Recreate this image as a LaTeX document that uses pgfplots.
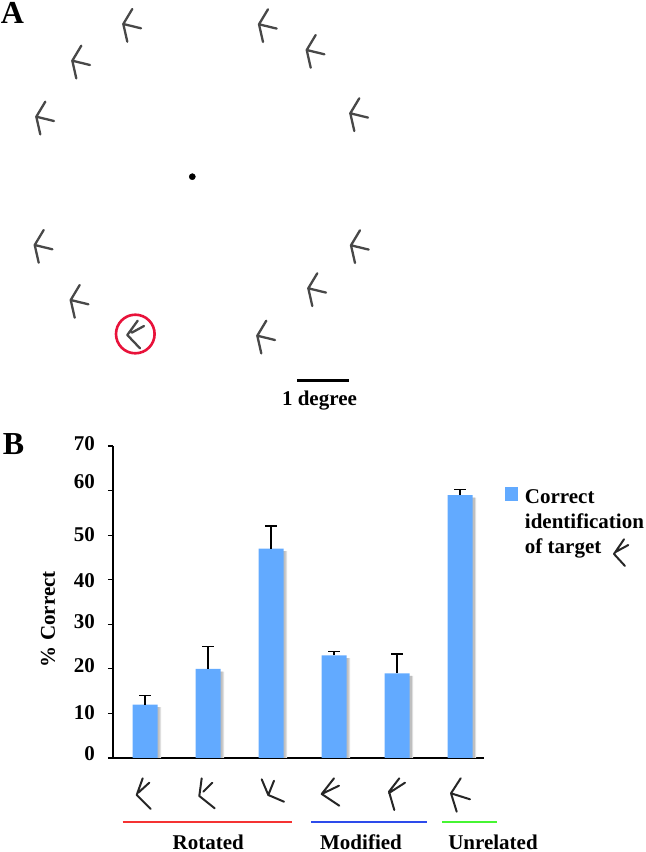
\documentclass[border=0pt]{standalone}
\usepackage{pgfplots}
\usepackage{pgfplotstable}
\usepackage{fontspec}
\setmainfont{Liberation Serif}
\pgfplotsset{compat=1.18}
\definecolor{barblue}{RGB}{98,170,255}
\definecolor{glyphgray}{RGB}{72,72,72}
\definecolor{ringred}{RGB}{232,18,58}
\definecolor{lred}{RGB}{245,50,50}
\definecolor{lblue}{RGB}{45,75,235}
\definecolor{lgreen}{RGB}{70,245,50}
\newcommand{\lab}{\fontsize{21bp}{25bp}\selectfont\bfseries}
\newcommand{\ylab}[2]{\raisebox{#1bp}[14bp][0bp]{\lab #2}}
\pgfplotstableread{
x val err shadow
0 12 2.0 11.4
1 20 5.0 19.4
2 47 5.0 46.4
3 23 0.9 22.4
4 19 4.3 18.4
5 59 1.2 58.4
}\bardata
\begin{document}
\begin{tikzpicture}
\path[use as bounding box] (0,0) rectangle (646bp,852bp);
% overlay in image pixels: stimulus display, glyphs below bars
\begin{axis}[at={(0,0)},anchor=south west,scale only axis,width=646bp,height=852bp,
  xmin=0,xmax=646,ymin=0,ymax=852,y dir=reverse,hide axis,clip=false,unbounded coords=jump]
% distractors
\addplot[glyphgray,line width=2.3bp,line cap=round,line join=round] coordinates {
(132.3,9)(123.3,24)(127.3,41.7)(nan,nan)(123.3,24)(141,28.3)(nan,nan)
(81.3,45.7)(72.3,60.7)(76.3,78.4)(nan,nan)(72.3,60.7)(90,65)(nan,nan)
(45.3,101.7)(36.3,116.7)(40.3,134.4)(nan,nan)(36.3,116.7)(54,121)(nan,nan)
(43.7,230)(34.7,245)(38.7,262.7)(nan,nan)(34.7,245)(52.4,249.3)(nan,nan)
(79.7,285)(70.7,300)(74.7,317.7)(nan,nan)(70.7,300)(88.4,304.3)(nan,nan)
(268,9.3)(259,24.3)(263,42)(nan,nan)(259,24.3)(276.7,28.6)(nan,nan)
(315.7,35)(306.7,50)(310.7,67.7)(nan,nan)(306.7,50)(324.4,54.3)(nan,nan)
(359.3,98.3)(350.3,113.3)(354.3,131)(nan,nan)(350.3,113.3)(368,117.6)(nan,nan)
(360,230.3)(351,245.3)(355,263)(nan,nan)(351,245.3)(368.7,249.6)(nan,nan)
(317.3,273.3)(308.3,288.3)(312.3,306)(nan,nan)(308.3,288.3)(326,292.6)(nan,nan)
(266.3,320.7)(257.3,335.7)(261.3,353.4)(nan,nan)(257.3,335.7)(275,340)
};
% target
\addplot[glyphgray,line width=2.3bp,line cap=round,line join=round] coordinates {
(137.7,320.7)(127.3,335)(140,348.3)(nan,nan)(131.7,332.7)(144,326)
};
\addplot[only marks,mark=o,mark size=19.3bp,mark options={draw=ringred,line width=2.6bp}] coordinates {(135.3,334)};
% fixation
\addplot[only marks,mark=*,mark size=3.1bp,mark options={fill=black,draw=none}] coordinates {(192.3,176.7)};
% scale bar
\addplot[black,line width=2.5bp] coordinates {(297.3,380.3)(349.3,380.3)};
% glyphs below bars
\addplot[black!85,line width=2bp,line cap=round,line join=round] coordinates {
(142.7,778.3)(136.7,795)(150.7,809)(nan,nan)(138.3,792.7)(149.3,782.7)(nan,nan)
(201.7,778.3)(199.3,796)(214.7,808.3)(nan,nan)(203.3,791.7)(212.3,782.7)(nan,nan)
(261.7,779.3)(268.3,795)(284,801.7)(nan,nan)(268.3,795)(274,780.7)(nan,nan)
(334,778.3)(321.7,794)(339.3,805.7)(nan,nan)(321.7,794)(339,785.7)(nan,nan)
(399.3,778.3)(389,791.7)(394.3,810)(nan,nan)(389,793)(405,782.7)(nan,nan)
(460.7,778.3)(451,793.3)(456.7,811.7)(nan,nan)(451,793.3)(470,799.3)(nan,nan)
(624,539.3)(614,554)(625,566)(nan,nan)(615,552.3)(628.3,545)
};
% group lines
\addplot[lred,line width=2bp] coordinates {(122.7,821.7)(292.3,821.7)};
\addplot[lblue,line width=2bp] coordinates {(311,821.7)(427,821.7)};
\addplot[lgreen,line width=2bp] coordinates {(442,821.7)(496.7,821.7)};
% text
\node[anchor=base,inner sep=0pt,font=\fontsize{32bp}{36bp}\selectfont\bfseries] at (axis cs:12.5,23.5) {A};
\node[anchor=base,inner sep=0pt,font=\fontsize{32bp}{36bp}\selectfont\bfseries] at (axis cs:13.5,454) {B};
\node[anchor=base,inner sep=0pt,font=\lab] at (axis cs:319.5,405.5) {1 degree};
\node[anchor=base,inner sep=0pt,font=\lab] at (axis cs:208.3,849) {Rotated};
\node[anchor=base,inner sep=0pt,font=\lab] at (axis cs:361,849) {Modified};
\node[anchor=base,inner sep=0pt,font=\lab] at (axis cs:493,849) {Unrelated};
\end{axis}
% bar chart
\begin{axis}[at={(113bp,94bp)},anchor=south west,scale only axis,width=371bp,height=312bp,
  xmin=-0.508,xmax=5.38,ymin=0,ymax=70,
  axis x line=bottom,axis y line=left,axis line style={-,line width=1.4bp,black},
  xtick=\empty,ytick={0,10,20,30,40,50,60,70},
  yticklabels={\ylab{4}{0},\ylab{1}{10},\ylab{3}{20},\ylab{3}{30},\ylab{-1}{40},\ylab{1}{50},\ylab{9}{60},\ylab{3}{70}},
  tick align=outside,major tick length=5bp,tick style={black,line width=1.1bp},
  yticklabel style={inner sep=0pt,xshift=-13bp},
  ylabel={\lab \% Correct},
  ylabel style={at={(axis description cs:-0.175,0.445)},anchor=center},
  clip=false,
  legend style={at={(1.057,0.868)},anchor=north west,draw=none,fill=none,
    cells={anchor=west},row sep=5bp,column sep=7bp,inner sep=0pt,
    nodes={inner sep=0pt,text height=15bp,text depth=5bp,font=\lab}},
  legend image code/.code={\fill[barblue] (0bp,-2bp) rectangle (12.6bp,11.4bp);}
]
\addplot[ybar,bar width=25bp,bar shift=3.6bp,fill=gray!25,draw=none,forget plot] table[x=x,y=shadow] {\bardata};
\addplot[ybar,bar width=25bp,bar shift=2.2bp,fill=gray!50,draw=none,forget plot] table[x=x,y=shadow] {\bardata};
\addplot[ybar,bar width=25bp,bar shift=0bp,fill=barblue,draw=none,
  error bars/.cd,y dir=plus,y explicit,
  error bar style={black,line width=1.5bp},
  error mark options={rotate=90,mark size=6bp,black,line width=1.5bp}]
  table[x=x,y=val,y error=err] {\bardata};
\addlegendentry{Correct}
\addlegendimage{empty legend}\addlegendentry{identification}
\addlegendimage{empty legend}\addlegendentry{of target}
\end{axis}
\end{tikzpicture}
\end{document}
